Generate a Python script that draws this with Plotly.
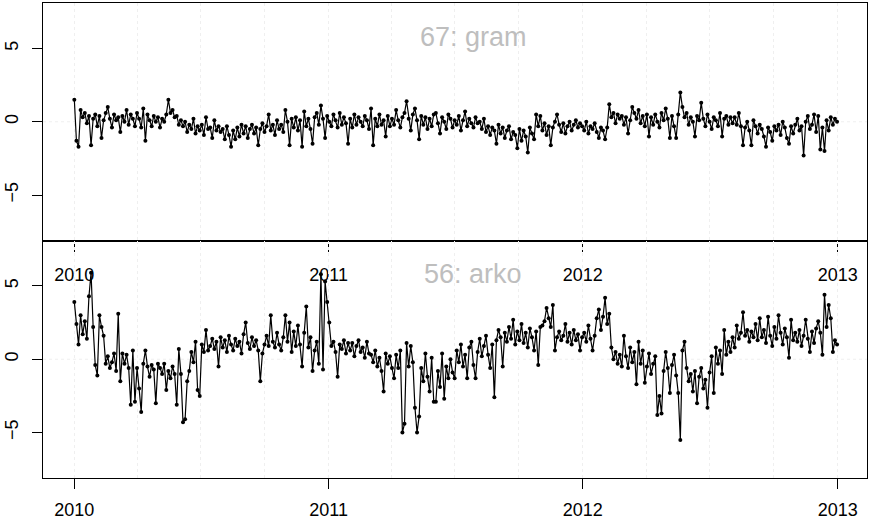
import plotly.graph_objects as go
from plotly.subplots import make_subplots
import pandas as pd

# values every 3 days, 2010-01-01 .. 2012-12-31
gram = [
    # 2010
    1.5, -1.3, -1.7, 0.8, 0.3, 0.6, -0.1, 0.4, -1.6, 0.2,
    0.5, -0.3, 0.4, -1.1, 0.1, 0.6, 1.0, 0.2, -0.4, 0.5,
    0.1, 0.3, -0.7, 0.4, 0.0, 0.8, -0.2, 0.5, 0.2, -0.3, 0.6,
    0.2, -0.4, 0.9, -1.3, 0.5, 0.1, -0.3, 0.4, 0.0, 0.3,
    -0.4, 0.2, 0.0, 0.5, 1.5, 0.6, 0.8, 0.3, 0.4, -0.2,
    0.1, -0.3, 0.0, -0.7, -0.2, -0.5, 0.2, -0.8, -0.3, -0.6,
    -0.2, -0.9, 0.3, -0.5, -0.4, -1.1, 0.1, -0.6, -0.3, -0.7,
    -0.5, -1.2, -0.3, -0.9, -1.7, -0.6, -1.2, -0.4, -1.0, -0.2, -0.8,
    -0.3, -1.1, -0.5, -0.2, -0.8, -0.4, -1.6, -0.5, -0.1, -0.7,
    -0.3, 0.5, -0.6, -0.2, -0.9, 0.1, -0.5, -0.2, -0.7, 0.8,
    0.0, -1.6, 0.2, -0.4, 0.3, -0.6, 0.1, -1.7, 0.7, -0.3,
    0.2, -0.5, -1.5, 0.3, 0.6, -0.2, 1.1, 0.2, -1.1, 0.4,
    # 2011
    0.0, -0.3, 0.5, 0.1, -0.4, 0.6, -0.2, 0.3, -0.1, -1.5,
    0.2, -0.4, 0.5, -0.2, 0.3, 0.0, -0.3, 0.4, 0.1, -0.5,
    0.9, -1.6, 0.2, -0.3, 0.5, -0.2, 0.1, -1.0, 0.4, -0.3, 0.2,
    -0.2, 0.8, 0.1, -0.4, 0.3, 0.6, 1.4, 0.2, -0.6, 0.5,
    0.9, 0.1, -1.2, 0.4, -0.2, 0.3, -0.5, 0.2, -0.3, 0.5,
    0.6, -0.1, -0.8, 0.3, 0.0, -0.5, 0.5, 0.2, -0.4, 0.1,
    -0.2, 0.4, -0.6, 0.1, 0.7, -0.3, 0.2, -0.1, -0.4, 0.3,
    -0.1, 0.0, -0.5, 0.2, -0.7, -0.3, -0.9, -0.4, -0.6, -1.5, -0.2,
    -0.8, -0.4, -1.1, -0.6, -0.3, -1.2, -0.7, -0.9, -1.8, -0.5,
    -1.3, -0.6, -1.0, -2.1, -0.4, -0.8, -1.2, 0.5, -0.3, 0.4,
    -0.6, -0.1, -0.9, -0.3, -1.6, -0.4, 0.0, 0.5, -0.2, -0.7,
    -0.1, -0.8, -0.3, 0.0, -0.6, -0.2, 0.1, -0.4, -0.1, -0.3,
    # 2012
    -0.6, 0.0, -0.8, -0.3, -0.5, -0.1, -0.7, -1.1, -0.4, -0.6,
    -1.2, -0.4, 1.2, 0.3, 0.6, -0.1, 0.5, 0.2, 0.4, -0.2,
    0.3, -0.8, 0.1, 1.0, 0.6, 0.2, 0.8, -0.1, 0.4, -0.3, 0.5,
    -1.0, 0.3, -0.2, 0.5, 0.0, -0.4, 0.6, 0.1, 0.9, 0.2,
    -1.1, 0.4, -0.3, -1.1, 0.5, 2.0, 1.0, 0.3, 0.6, -0.2,
    0.3, 0.0, -1.0, 0.4, 0.1, 1.3, 0.2, -0.3, 0.5, 0.0,
    -0.5, 0.3, 0.1, -0.3, 0.6, -1.0, 0.2, 0.4, -0.2, 0.3,
    -0.1, 0.3, -0.2, 0.6, -0.3, -1.6, -0.4, 0.0, -0.6, -1.6, 0.1,
    -0.3, -0.8, -0.2, -0.5, -1.0, -1.7, -0.4, -0.7, -1.3, -0.3,
    -0.6, -0.2, -0.9, 0.0, -0.4, -1.1, -1.5, -0.3, -0.8, -0.2,
    0.2, -0.6, -0.3, -2.3, 0.0, 0.4, -0.5, -0.2, 0.5, -0.7,
    0.4, -1.9, -0.4, -2.0, 0.1, -0.6, 0.3, -0.2, 0.2, 0.0,
]

arko = [
    # 2010
    3.9, 2.4, 1.0, 3.0, 1.7, 2.6, 1.4, 4.3, 5.9, 2.2,
    -0.4, -1.1, 3.0, 2.2, 1.6, -0.3, 0.2, -0.6, -0.2, 0.4,
    -0.8, 3.1, -1.5, 0.4, -0.3, 0.3, -0.6, -3.1, 0.6, -2.9, -0.6,
    -2.0, -3.6, -0.3, 0.6, -0.5, -1.2, -0.4, -0.7, -3.0, -0.3,
    -0.6, -1.0, -0.3, -2.1, -0.8, -1.3, -0.5, -1.0, -3.1, 0.7,
    -1.0, -4.3, -4.1, -1.5, -0.8, 0.5, -0.2, 1.2, -2.1, -2.5,
    1.0, 0.5, 2.0, 0.6, 0.9, 1.4, 0.7, 1.2, -0.5, 1.5,
    0.8, 1.3, 0.5, 1.6, 1.0, 0.6, 1.4, 0.9, 1.2, 0.4, 1.7,
    2.5, 1.1, 0.7, 1.5, 0.9, 1.3, 0.6, -1.5, 0.4, 1.0,
    1.6, 0.9, 3.0, 1.2, 0.8, 1.8, 1.0, 0.6, 1.5, 3.0,
    1.2, 2.5, 0.5, 1.9, 0.9, 2.3, 1.0, -0.5, 1.8, 3.6,
    0.8, 1.5, -0.8, 0.6, 1.2, -0.3, 5.8, -0.7, 5.3, 3.9,
    # 2011
    2.5, 0.9, 1.2, 0.5, -1.2, 1.0, 0.7, 1.3, 0.4, 1.1,
    0.6, 1.1, 0.2, 0.9, 1.3, 0.5, 0.8, 0.1, 1.2, 0.4,
    0.3, -0.2, 0.6, -0.5, 0.1, -0.8, -2.2, 0.4, -0.3, 0.2, -0.6,
    -1.3, 0.3, -0.6, 0.6, -5.0, -4.4, 1.1, -0.5, 0.9, -0.2,
    -3.3, -5.0, -3.9, -0.6, -1.5, 0.4, -1.2, -2.2, 0.1, -2.9,
    -2.9, -0.8, -1.9, 0.4, -2.7, -0.5, -1.3, 0.0, -0.9, -1.3,
    0.6, -0.2, 1.0, -0.5, 0.3, -1.3, 0.8, 1.2, -0.4, -1.3,
    0.5, 1.4, 0.2, 0.9, 1.6, 0.3, -0.6, 1.0, -2.6, 1.3, 2.0,
    1.5, -0.5, 1.8, 1.2, 2.2, 1.4, 2.7, 1.0, 1.9, 1.3,
    2.4, 1.1, 1.8, 0.8, 2.1, 1.5, 0.6, 1.9, -0.4, 2.2,
    2.3, 2.6, 3.5, 2.8, 2.2, 3.7, 0.6, 1.5, 1.9, 1.3,
    1.6, 2.4, 1.2, 1.8, 1.0, 2.0, 1.3, 1.7, 0.6, 1.5,
    # 2012
    1.8, 1.2, 2.3, 1.4, 0.6, 1.6, 2.8, 3.4, 2.0, 2.9,
    4.2, 2.4, 3.1, 0.8, 0.0, 0.5, -0.3, 0.3, -0.5, 1.6,
    0.2, -0.6, 0.8, -0.2, 0.5, -1.7, 1.2, -0.3, 0.6, -1.6, -0.5,
    0.4, -1.0, -0.3, 0.2, -3.8, -2.5, -3.7, -0.8, 0.5, -0.6,
    -2.3, -0.4, 0.3, -1.1, -2.3, -5.5, 0.6, 1.2, -0.6, -1.5,
    -1.0, -2.2, -0.8, -3.0, -1.2, -0.6, -2.0, -1.4, -3.3, -0.9,
    0.2, -2.3, 0.8, -0.3, 0.6, -1.0, 2.0, 0.3, 1.2, 0.5,
    1.5, 0.8, 2.3, 1.4, 1.8, 3.2, 1.6, 2.0, 1.2, 1.9, 1.5,
    2.4, 1.3, 2.8, 1.5, 2.0, 1.1, 2.9, 1.6, 0.9, 2.2,
    1.4, 3.0, 1.8, 1.0, 2.1, 1.5, 0.1, 2.7, 1.3, 1.8,
    1.2, 2.0, 0.9, 1.6, 2.7, 1.4, 0.5, 1.9, 1.1, 2.1,
    2.6, 1.8, 0.3, 4.4, 2.2, 3.7, 2.8, 0.5, 1.3, 1.0,
]

panel_titles = ["67: gram", "56: arko"]
series = [gram, arko]

FONT = "Liberation Sans, Arial, Helvetica, sans-serif"
GRID = "#efefef"

fig = make_subplots(rows=2, cols=1, vertical_spacing=0)

for k, vals in enumerate(series):
    dates = pd.date_range("2010-01-01", periods=len(vals), freq="3D")
    fig.add_trace(
        go.Scatter(
            x=dates,
            y=vals,
            mode="lines+markers",
            line=dict(color="black", width=1.2),
            marker=dict(color="black", size=4),
            showlegend=False,
            hoverinfo="skip",
        ),
        row=k + 1, col=1,
    )

fig.update_xaxes(
    range=["2009-11-17", "2013-02-12"],
    tickmode="linear",
    tick0="2010-01-01",
    dtick="M12",
    tickformat="%Y",
    ticks="outside",
    ticklen=10,
    tickcolor="black",
    showline=True,
    mirror=True,
    linecolor="black",
    linewidth=1,
    showgrid=True,
    gridcolor=GRID,
    griddash="dot",
    minor=dict(dtick="M3", tick0="2010-01-01", showgrid=True,
               gridcolor=GRID, griddash="dot", ticks=""),
    zeroline=False,
    automargin=False,
    ticklabelstandoff=5,
)
fig.update_yaxes(
    range=[-8.1, 8.1],
    tickvals=[-5, 0, 5],
    ticks="outside",
    ticklen=10,
    tickcolor="black",
    tickangle=-90,
    showline=True,
    mirror=True,
    linecolor="black",
    linewidth=1,
    showgrid=False,
    zeroline=False,
    automargin=False,
    ticklabelstandoff=7,
)
fig.update_xaxes(ticklabelstandoff=8, row=1, col=1)

# dotted reference line at zero in both panels
for xr, yr in [("x domain", "y"), ("x2 domain", "y2")]:
    fig.add_shape(type="line", xref=xr, yref=yr, x0=0, x1=1, y0=0, y1=0,
                  line=dict(color=GRID, width=1, dash="dot"), layer="below")

for title, ypos in zip(panel_titles, [0.929, 0.4295]):
    fig.add_annotation(text=title, xref="paper", yref="paper",
                       x=0.522, y=ypos, xanchor="center", yanchor="middle",
                       showarrow=False,
                       font=dict(family=FONT, size=27, color="#bebebe"))

fig.update_layout(
    width=872,
    height=522,
    margin=dict(l=43, r=5, t=3, b=44),
    paper_bgcolor="white",
    plot_bgcolor="white",
    font=dict(family=FONT, size=18, color="black"),
)

# the page's default body margin would shift the figure by 8px
fig.write_html("out.html", config={"displayModeBar": False},
               post_script="document.body.style.margin='0';")
